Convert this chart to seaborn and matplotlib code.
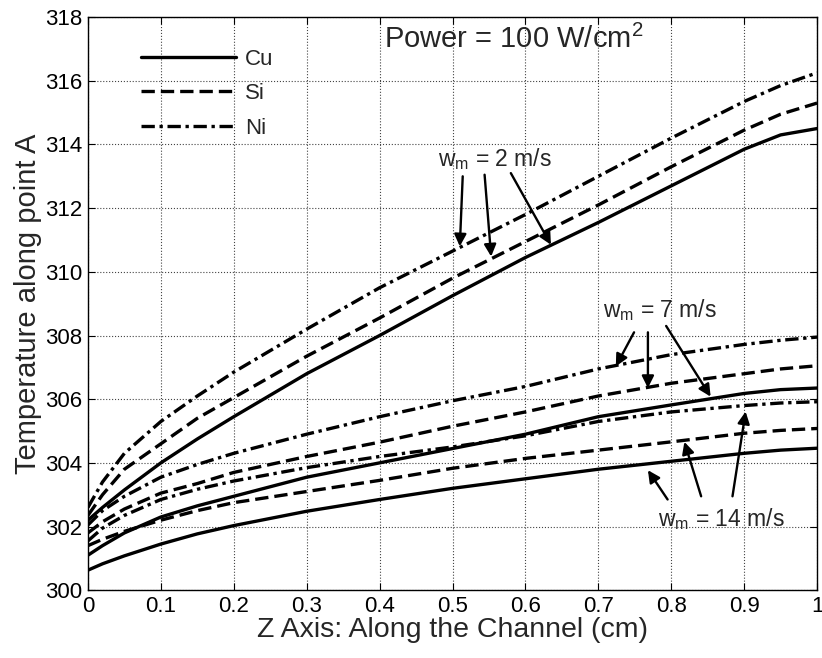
import numpy as np
import pandas as pd
import matplotlib
matplotlib.use('Agg')
import matplotlib.pyplot as plt
from matplotlib.lines import Line2D
import seaborn as sns

# values
z = [0, 0.02, 0.05, 0.1, 0.15, 0.2, 0.3, 0.4, 0.5, 0.6, 0.7, 0.8, 0.9, 0.95, 1.0]

cu_2 = [302.2, 302.6, 303.15, 304.0, 304.75, 305.45, 306.8, 308.0, 309.25, 310.45, 311.55, 312.7, 313.85, 314.3, 314.5]
si_2 = [302.35, 303.0, 303.8, 304.6, 305.4, 306.05, 307.35, 308.55, 309.8, 310.95, 312.1, 313.3, 314.45, 314.95, 315.3]
ni_2 = [302.6, 303.4, 304.3, 305.3, 306.1, 306.85, 308.2, 309.5, 310.65, 311.8, 313.0, 314.2, 315.35, 315.85, 316.25]

cu_7 = [301.1, 301.4, 301.8, 302.3, 302.65, 302.95, 303.55, 304.0, 304.45, 304.9, 305.45, 305.82, 306.18, 306.3, 306.35]
si_7 = [301.8, 302.15, 302.55, 303.05, 303.35, 303.7, 304.2, 304.65, 305.15, 305.6, 306.1, 306.5, 306.8, 306.95, 307.05]
ni_7 = [302.05, 302.5, 302.95, 303.55, 303.95, 304.3, 304.9, 305.45, 305.95, 306.4, 306.95, 307.4, 307.72, 307.85, 307.95]

cu_14 = [300.63, 300.83, 301.08, 301.45, 301.77, 302.03, 302.48, 302.85, 303.2, 303.5, 303.8, 304.05, 304.3, 304.4, 304.46]
si_14 = [301.4, 301.6, 301.85, 302.2, 302.5, 302.75, 303.1, 303.45, 303.83, 304.14, 304.4, 304.66, 304.93, 305.02, 305.08]
ni_14 = [301.55, 301.95, 302.35, 302.85, 303.17, 303.43, 303.85, 304.2, 304.5, 304.85, 305.3, 305.6, 305.8, 305.88, 305.92]

materials = ['Cu', 'Si', 'Ni']
curves = {('Cu', '2'): cu_2, ('Si', '2'): si_2, ('Ni', '2'): ni_2,
          ('Cu', '7'): cu_7, ('Si', '7'): si_7, ('Ni', '7'): ni_7,
          ('Cu', '14'): cu_14, ('Si', '14'): si_14, ('Ni', '14'): ni_14}

x_ticks = [0, 0.1, 0.2, 0.3, 0.4, 0.5, 0.6, 0.7, 0.8, 0.9, 1]
x_tick_labels = ['0', '0.1', '0.2', '0.3', '0.4', '0.5', '0.6', '0.7', '0.8', '0.9', '1']
y_ticks = [300, 302, 304, 306, 308, 310, 312, 314, 316, 318]

# long-form table for seaborn
rows = []
for (mat, spd), vals in curves.items():
    for zz, tt in zip(z, vals):
        rows.append({'z': zz, 'T': tt, 'material': mat, 'speed': spd})
df = pd.DataFrame(rows)
df['curve'] = df['material'] + '_' + df['speed']

sns.set_style('ticks')
plt.rcParams['font.family'] = ['Liberation Sans', 'DejaVu Sans']
plt.rcParams['mathtext.fontset'] = 'custom'
plt.rcParams['mathtext.rm'] = 'Liberation Sans'
plt.rcParams['mathtext.it'] = 'Liberation Sans:italic'
plt.rcParams['xtick.direction'] = 'in'
plt.rcParams['ytick.direction'] = 'in'

dash_styles = {'Cu': '', 'Si': (4, 1.8), 'Ni': (4, 1.4, 1, 1.4)}

fig = plt.figure(figsize=(8.22, 6.58), dpi=100)
ax = fig.add_axes([0.107, 0.103, 0.887, 0.871])

sns.lineplot(data=df, x='z', y='T', style='material', units='curve', estimator=None,
             dashes=dash_styles, color='k', linewidth=2.4, legend=False, ax=ax,
             sort=True)

ax.set_xlim(0, 1)
ax.set_ylim(300, 318)
ax.set_xticks(x_ticks)
ax.set_xticklabels(x_tick_labels)
ax.set_yticks(y_ticks)
ax.tick_params(labelsize=16, top=True, right=True, length=5, width=0.8, colors='k', pad=4)
ax.grid(True, linestyle=':', color='#444444', linewidth=0.8)
for sp in ax.spines.values():
    sp.set_color('k')
    sp.set_linewidth(1.0)

ax.set_xlabel('Z Axis: Along the Channel (cm)', fontsize=20.5, labelpad=0)
ax.set_ylabel('Temperature along point A', fontsize=21, labelpad=2)

# legend with long handles, no frame
handles = [Line2D([0], [0], color='k', lw=2.4, linestyle='-'),
           Line2D([0], [0], color='k', lw=2.4, linestyle=(0, (4, 1.8))),
           Line2D([0], [0], color='k', lw=2.4, linestyle=(0, (4, 1.4, 1, 1.4)))]
ax.legend(handles, materials, loc='upper left', bbox_to_anchor=(0.06, 0.96),
          frameon=False, fontsize=16, handlelength=4.3, labelspacing=0.6,
          handletextpad=0.4, borderaxespad=0)

ax.text(0.406, 317.3, 'Power = 100 W/cm$^2$', fontsize=21, va='center', ha='left')

arrow_kw = dict(arrowstyle='-|>', color='k', lw=1.7, mutation_scale=18, shrinkA=0, shrinkB=0)

ax.text(0.48, 313.55, '$\\mathregular{w_m}$ = 2 m/s', fontsize=16.5, va='center', ha='left')
for start, tip in [((0.514, 313.0), (0.51, 310.8)),
                   ((0.544, 313.05), (0.553, 310.48)),
                   ((0.580, 313.1), (0.635, 310.85))]:
    ax.annotate('', xy=tip, xytext=start, arrowprops=arrow_kw)

ax.text(0.706, 308.8, '$\\mathregular{w_m}$ = 7 m/s', fontsize=16.5, va='center', ha='left')
for start, tip in [((0.749, 308.1), (0.724, 307.03)),
                   ((0.768, 308.1), (0.768, 306.35)),
                   ((0.793, 308.3), (0.854, 306.08))]:
    ax.annotate('', xy=tip, xytext=start, arrowprops=arrow_kw)

ax.text(0.782, 302.25, '$\\mathregular{w_m}$ = 14 m/s', fontsize=16.5, va='center', ha='left')
for start, tip in [((0.795, 302.85), (0.768, 303.77)),
                   ((0.841, 302.95), (0.818, 304.66)),
                   ((0.884, 302.95), (0.902, 305.61))]:
    ax.annotate('', xy=tip, xytext=start, arrowprops=arrow_kw)

fig.savefig('out.png', dpi=100)
